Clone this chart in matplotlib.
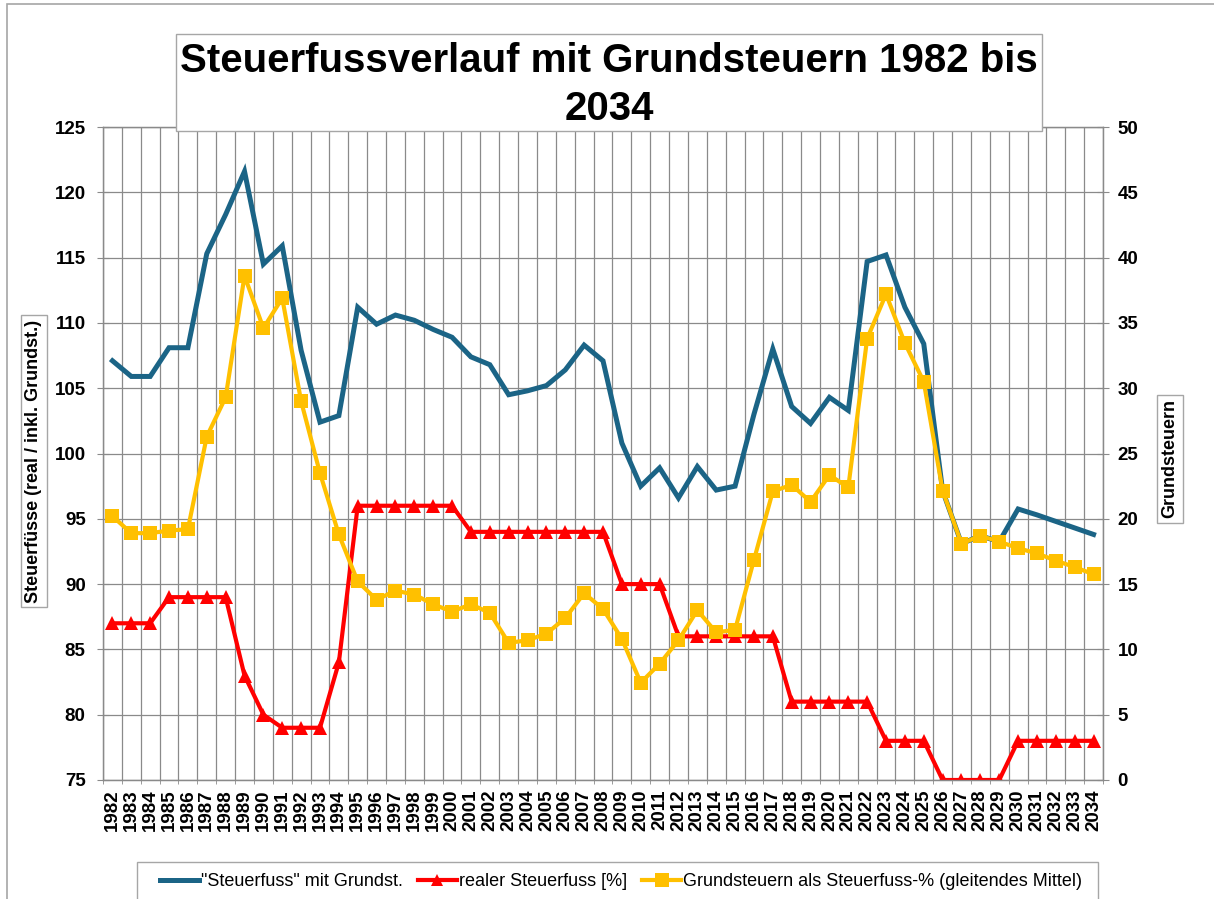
import numpy as np
import matplotlib
matplotlib.use("Agg")
import matplotlib.pyplot as plt
from matplotlib.lines import Line2D
from matplotlib.patches import Rectangle

plt.rcParams["font.family"] = ["Liberation Sans", "DejaVu Sans"]

years = list(range(1982, 2035))

# "Steuerfuss" mit Grundsteuern (left axis)
steuerfuss_mit_grundst = [
    107.1, 105.9, 105.9, 108.1, 108.1, 115.3, 118.3, 121.6, 114.5, 115.9,
    107.9, 102.4, 102.9, 111.2, 109.9, 110.6, 110.2, 109.5, 108.9, 107.4,
    106.8, 104.5, 104.8, 105.2, 106.4, 108.3, 107.1, 100.8, 97.5, 98.9,
    96.6, 99.0, 97.2, 97.5, 103.0, 108.0, 103.6, 102.3, 104.3, 103.3,
    114.7, 115.2, 111.2, 108.4, 97.15, 93.1, 93.7, 93.25, 95.75, 95.3,
    94.8, 94.3, 93.8,
]

# realer Steuerfuss [%] (left axis)
realer_steuerfuss = [
    87, 87, 87, 89, 89, 89, 89, 83, 80, 79,
    79, 79, 84, 96, 96, 96, 96, 96, 96, 94,
    94, 94, 94, 94, 94, 94, 94, 90, 90, 90,
    86, 86, 86, 86, 86, 86, 81, 81, 81, 81,
    81, 78, 78, 78, 75, 75, 75, 75, 78, 78,
    78, 78, 78,
]

# Grundsteuern als Steuerfuss-% (gleitendes Mittel) (right axis)
grundsteuern = [
    20.2, 18.9, 18.9, 19.1, 19.2, 26.3, 29.3, 38.6, 34.6, 36.9,
    29.0, 23.5, 18.8, 15.2, 13.8, 14.5, 14.2, 13.45, 12.9, 13.45,
    12.8, 10.5, 10.7, 11.2, 12.4, 14.3, 13.1, 10.8, 7.45, 8.9,
    10.7, 13.0, 11.3, 11.5, 16.85, 22.1, 22.6, 21.3, 23.35, 22.4,
    33.8, 37.2, 33.45, 30.5, 22.15, 18.1, 18.7, 18.25, 17.75, 17.35,
    16.8, 16.3, 15.75,
]

title = "Steuerfussverlauf mit Grundsteuern 1982 bis\n2034"
left_label = "Steuerfüsse (real / inkl. Grundst.)"
right_label = "Grundsteuern"
legend_labels = [
    '"Steuerfuss" mit Grundst.',
    "realer Steuerfuss [%]",
    "Grundsteuern als Steuerfuss-% (gleitendes Mittel)",
]

BLUE = "#1B6486"
RED = "#FF0000"
YELLOW = "#FFC000"
GRID = "#8a8a8a"
FRAME = "#a6a6a6"

W, H = 1214, 899
fig = plt.figure(figsize=(W / 100, H / 100), dpi=100)

# outer chart border
fig.patches.append(Rectangle((7 / W, -0.05), 1.1, 1.05 - 4 / H, transform=fig.transFigure,
                             fill=False, edgecolor=FRAME, linewidth=1.2))

ax1 = fig.add_axes([103 / W, 119 / H, 1000 / W, 653 / H])
ax2 = ax1.twinx()

x = np.arange(len(years))

ax1.plot(x, steuerfuss_mit_grundst, color=BLUE, linewidth=3.6, solid_joinstyle="miter", zorder=3)
ax1.plot(x, realer_steuerfuss, color=RED, linewidth=3.0, marker="^", markersize=10,
         markeredgewidth=0, zorder=4)
ax2.plot(x, grundsteuern, color=YELLOW, linewidth=3.0, marker="s", markersize=10,
         markeredgewidth=0, zorder=3)

ax1.set_xlim(-0.5, len(years) - 0.5)
ax1.set_ylim(75, 125)
ax2.set_ylim(0, 50)

ax1.set_xticks(x)
ax1.set_xticklabels([str(y) for y in years], rotation=90, fontsize=13.5, fontweight="bold")
ax1.set_xticks(np.arange(-0.5, len(years), 1), minor=True)
ax1.tick_params(axis="x", which="major", length=0, pad=6.5)
ax1.tick_params(axis="x", which="minor", direction="inout", length=6, color=GRID)

ax1.set_yticks(range(75, 126, 5))
ax1.tick_params(axis="y", direction="inout", length=9, pad=8, color=GRID, labelsize=13.5)
for lbl in ax1.get_yticklabels():
    lbl.set_fontweight("bold")

ax2.set_yticks(range(0, 51, 5))
ax2.tick_params(axis="y", direction="inout", length=9, pad=6, color=GRID, labelsize=13.5)
for lbl in ax2.get_yticklabels():
    lbl.set_fontweight("bold")

ax1.grid(which="minor", axis="x", color=GRID, linewidth=0.9)
ax1.grid(which="major", axis="y", color=GRID, linewidth=0.9)
ax1.set_axisbelow(True)

for ax in (ax1, ax2):
    for sp in ax.spines.values():
        sp.set_color(GRID)
        sp.set_linewidth(0.9)

# axis titles in boxes
box = dict(boxstyle="square,pad=0.25", facecolor="white", edgecolor=FRAME, linewidth=1)
fig.text(34 / W, 1 - 461 / H, left_label, rotation=90, ha="center", va="center",
         fontsize=13, fontweight="bold", bbox=box)
fig.text(1170 / W, 1 - 459 / H, right_label, rotation=90, ha="center", va="center",
         fontsize=13, fontweight="bold", bbox=box)

# title box
fig.patches.append(Rectangle((176 / W, 1 - 131 / H), (1042 - 176) / W, (131 - 34) / H,
                             transform=fig.transFigure, facecolor="white",
                             edgecolor=FRAME, linewidth=1, zorder=5))
fig.text(609 / W, 1 - 85 / H, title, ha="center", va="center", fontsize=29,
         fontweight="bold", linespacing=1.32, zorder=6)

# legend
fig.patches.append(Rectangle((137 / W, -0.05), (1098 - 137) / W, 0.05 + (899 - 862) / H,
                             transform=fig.transFigure, facecolor="white",
                             edgecolor=FRAME, linewidth=1))
handles = [
    Line2D([], [], color=BLUE, linewidth=3.6),
    Line2D([], [], color=RED, linewidth=3.0, marker="^", markersize=9, markeredgewidth=0),
    Line2D([], [], color=YELLOW, linewidth=3.0, marker="s", markersize=10, markeredgewidth=0),
]
fig.legend(handles, legend_labels, loc="center", bbox_to_anchor=(621 / W, 1 - 882 / H),
           ncol=3, frameon=False, fontsize=13, handlelength=2.2, handletextpad=0.1,
           columnspacing=0.8)

fig.savefig("out.png", dpi=100)
